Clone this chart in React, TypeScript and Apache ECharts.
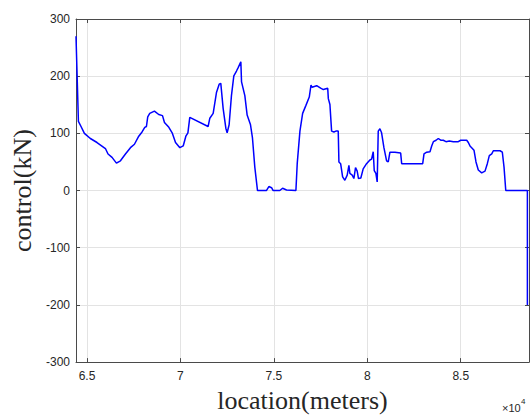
import React, { useEffect, useRef } from "react";
import * as echarts from "echarts";

const locations: number[] = [
  64411, 64540, 64680, 64860, 65180, 65536, 65985, 66125, 66340, 66575,
  66790, 67057, 67325, 67539, 67770, 67946, 68091, 68180, 68250, 68357,
  68607, 68840, 69040, 69146, 69380, 69557, 69737, 69970, 70148, 70290,
  70400, 70500, 71481, 71573, 71752, 71932, 72074, 72160, 72285, 72430,
  72500, 72606, 72730, 72857, 73000, 73089, 73233, 73270, 73447, 73570,
  73750, 73855, 73980, 74125, 74600, 74732, 74877, 74963, 75320, 75466,
  75680, 76180, 76250, 76395, 76540, 76716, 76895, 76987, 77040, 77290,
  77504, 77648, 77882, 77915, 78000, 78090, 78213, 78320, 78445, 78481,
  78573, 78680, 78800, 78925, 79016, 79068, 79193, 79282, 79370, 79460,
  79530, 79654, 79780, 79960, 80140, 80230, 80318, 80372, 80460, 80530,
  80586, 80675, 80765, 80890, 81033, 81122, 81211, 81480, 81786, 81840,
  82965, 83035, 83180, 83355, 83447, 83536, 83680, 83800, 83929, 84068,
  84210, 84390, 84603, 84870, 85000, 85320, 85407, 85496, 85586, 85710,
  85817, 85940, 86123, 86300, 86423, 86530, 86660, 86745, 87104, 87227,
  87318, 87410, 88568, 88568,
];

const control: number[] = [
  270, 121, 112, 100, 91, 84, 73.5, 64, 58, 48,
  52, 64, 75, 81, 95, 102.5, 110.5, 112, 129, 135,
  139, 133, 131, 119, 110.5, 101, 84, 75, 78, 95,
  101, 128, 112, 126.5, 135, 172, 186, 187.5, 143.6, 109,
  101, 115, 166, 200.5, 209, 215, 225, 190, 166, 132,
  115, 92, 41, 0, 0, 7, 5, 0, 0, 4,
  1, 0, 47, 104, 135, 149, 163.5, 184.6, 180.6, 183.4,
  179, 176.6, 179, 160.7, 150.4, 104, 102.5, 104, 104, 50,
  47, 24, 18, 27, 44, 30, 27, 21, 40, 34,
  21, 22, 38, 47, 53.5, 55, 68, 35, 30, 15,
  104, 108, 101, 75, 52, 50, 67, 67, 65.5, 47,
  47, 64, 67, 68, 78, 85.5, 88, 91, 88, 88,
  85.5, 86.6, 85.5, 85.5, 88, 88, 84, 78, 75, 70.6,
  50, 36, 31, 34, 47, 61, 64, 69.6, 69.6, 67,
  41, 0, 0, -200,
];

const xTicks: number[] = [65000, 70000, 75000, 80000, 85000];
const xMin = 64411;
const xMax = 88654;

const AXIS_COLOR = "#4a4a4a";
const TEXT_COLOR = "#262626";
const GRID_COLOR = "#e3e3e3";

export default function App() {
  const ref = useRef<HTMLDivElement>(null);

  useEffect(() => {
    if (!ref.current) return;
    const chart = echarts.init(ref.current, undefined, { renderer: "svg" });
    const data = locations.map((x, i) => [x, control[i]]);

    const tickCommon = {
      show: true,
      inside: true,
      length: 4,
      lineStyle: { color: AXIS_COLOR, width: 1 },
    };

    chart.setOption({
      animation: false,
      backgroundColor: "#ffffff",
      grid: { left: 76, right: 2, top: 19, bottom: 48, containLabel: false },
      xAxis: [
        {
          type: "value",
          min: xMin,
          max: xMax,
          position: "bottom",
          name: "location(meters)",
          nameLocation: "middle",
          nameGap: 23,
          nameTextStyle: {
            fontFamily: "Liberation Serif",
            fontSize: 26,
            color: TEXT_COLOR,
          },
          axisLine: { show: true, onZero: false, lineStyle: { color: AXIS_COLOR } },
          axisTick: { ...tickCommon, customValues: xTicks },
          axisLabel: {
            customValues: xTicks,
            formatter: (v: number) => String(v / 10000),
            fontFamily: "Liberation Sans",
            fontSize: 12,
            color: TEXT_COLOR,
            margin: 8,
          },
          splitLine: { show: true, lineStyle: { color: GRID_COLOR, width: 1 } },
        },
        {
          type: "value",
          min: xMin,
          max: xMax,
          position: "top",
          axisLine: { show: true, onZero: false, lineStyle: { color: AXIS_COLOR } },
          axisTick: { ...tickCommon, customValues: xTicks },
          axisLabel: { show: false },
          splitLine: { show: false },
        },
      ],
      yAxis: [
        {
          type: "value",
          min: -300,
          max: 300,
          interval: 100,
          position: "left",
          name: "control(kN)",
          nameLocation: "middle",
          nameRotate: 90,
          nameGap: 41,
          nameTextStyle: {
            fontFamily: "Liberation Serif",
            fontSize: 26,
            color: TEXT_COLOR,
          },
          axisLine: { show: true, onZero: false, lineStyle: { color: AXIS_COLOR } },
          axisTick: tickCommon,
          axisLabel: {
            fontFamily: "Liberation Sans",
            fontSize: 12,
            color: TEXT_COLOR,
            margin: 6,
          },
          splitLine: { show: true, lineStyle: { color: GRID_COLOR, width: 1 } },
        },
        {
          type: "value",
          min: -300,
          max: 300,
          interval: 100,
          position: "right",
          axisLine: { show: true, onZero: false, lineStyle: { color: AXIS_COLOR } },
          axisTick: tickCommon,
          axisLabel: { show: false },
          splitLine: { show: false },
        },
      ],
      graphic: [
        {
          type: "text",
          left: 502,
          top: 402,
          style: {
            text: "×10",
            fontFamily: "Liberation Sans",
            fontSize: 11,
            fill: TEXT_COLOR,
          },
        },
        {
          type: "text",
          left: 521,
          top: 397,
          style: {
            text: "4",
            fontFamily: "Liberation Sans",
            fontSize: 8,
            fill: TEXT_COLOR,
          },
        },
      ],
      series: [
        {
          type: "line",
          xAxisIndex: 0,
          yAxisIndex: 0,
          data,
          showSymbol: false,
          symbol: "none",
          smooth: false,
          lineStyle: { color: "#0000ff", width: 1.5 },
          silent: true,
          clip: true,
        },
      ],
    });

    return () => chart.dispose();
  }, []);

  return (
    <div
      ref={ref}
      style={{ position: "fixed", left: 0, top: 0, width: 531, height: 418 }}
    />
  );
}
